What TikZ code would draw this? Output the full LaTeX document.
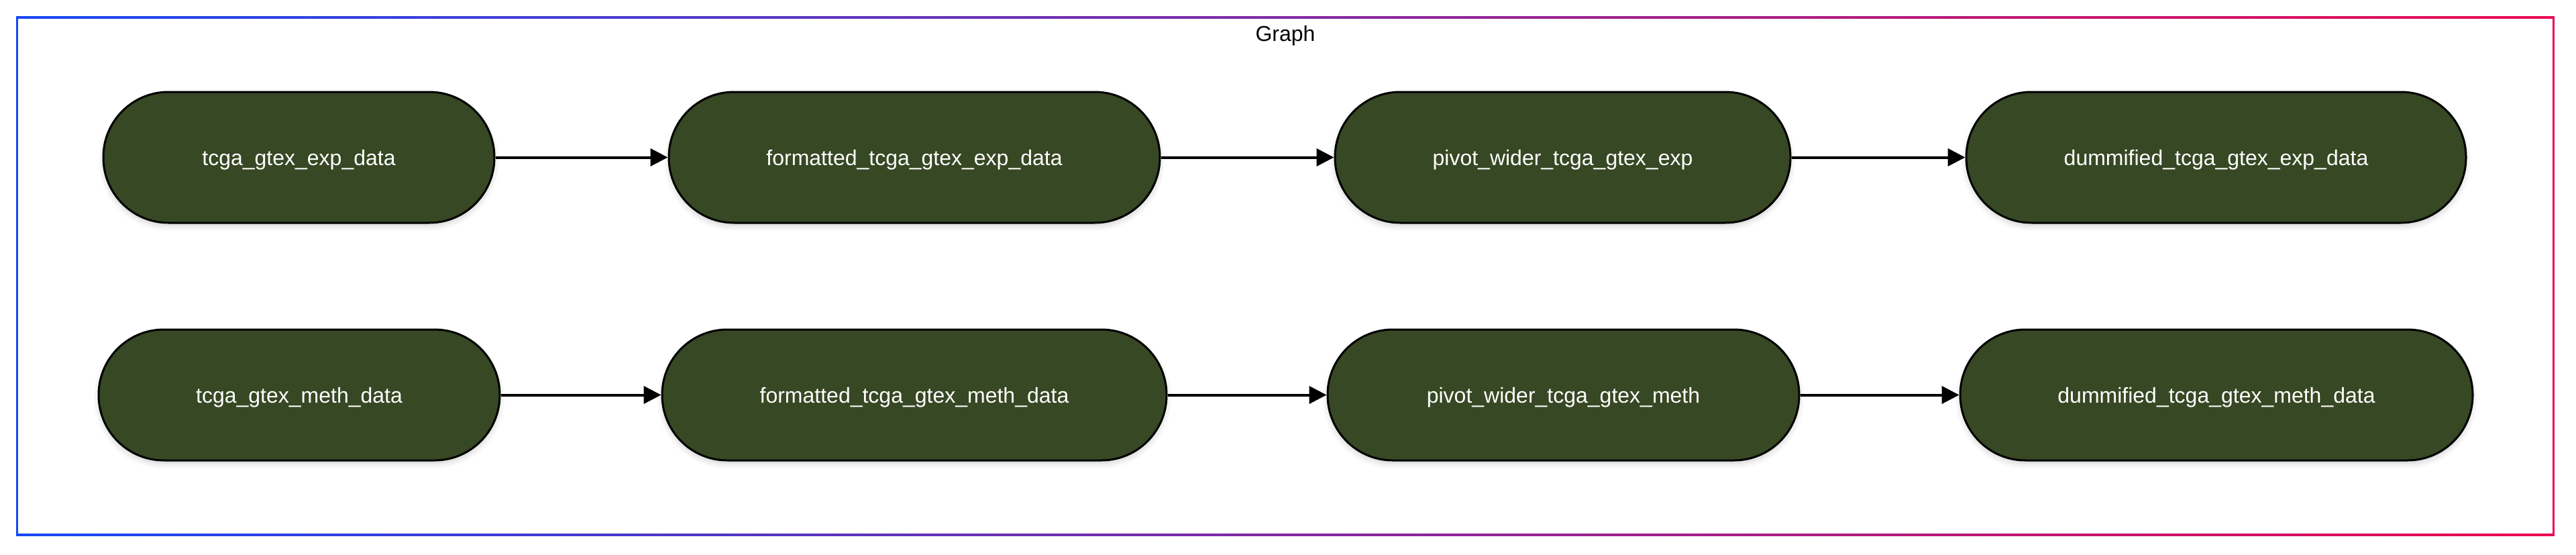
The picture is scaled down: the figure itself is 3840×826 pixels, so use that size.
\documentclass[tikz,border=0pt]{standalone}
\usepackage{fontspec}
\setmainfont{Liberation Sans}
\usetikzlibrary{arrows.meta,shadows.blur}
\definecolor{fblue}{RGB}{22,72,245}
\definecolor{fred}{RGB}{236,8,80}
\definecolor{nodefill}{RGB}{55,72,36}
\tikzset{
  pill/.style={draw=black, line width=0.75pt, fill=nodefill, rounded corners=24.3pt,
    minimum height=48.75pt, inner sep=0pt, text=white, font=\fontsize{8pt}{9.6pt}\selectfont,
    text height=6pt, text depth=0pt,
    blur shadow={shadow blur steps=6, shadow xshift=0pt, shadow yshift=-1.2pt, shadow opacity=18, shadow blur radius=2pt}},
  conn/.style={draw=black, line width=1pt, -{Triangle[length=6.5pt,width=6.5pt]}},
  titletext/.style={font=\fontsize{8pt}{9.6pt}\selectfont, text=black, inner sep=0pt}
}
\begin{document}
\begin{tikzpicture}[x=0.25pt,y=-0.25pt]
\useasboundingbox (0,0) rectangle (3840,826);
% frame
\shade[left color=fblue, right color=fred] (24,24.2) rectangle (3807.5,27.2);
\shade[left color=fblue, right color=fred] (24,795.5) rectangle (3807.5,798.5);
\fill[fblue] (24,24.2) rectangle (27,798.5);
\fill[fred] (3804.5,24.2) rectangle (3807.5,798.5);
\node[titletext, anchor=base] (title) at (1916,61) {Graph};
% row 1
\node[pill, minimum width=145.75pt] (n1) at (445.5,234.5) {tcga\_gtex\_exp\_data};
\node[pill, minimum width=183pt] (n2) at (1363,234.5) {formatted\_tcga\_gtex\_exp\_data};
\node[pill, minimum width=169.75pt] (n3) at (2329.5,234.5) {pivot\_wider\_tcga\_gtex\_exp};
\node[pill, minimum width=186.25pt] (n4) at (3303.5,234.5) {dummified\_tcga\_gtex\_exp\_data};
% row 2
\node[pill, minimum width=149.5pt] (m1) at (446,588.5) {tcga\_gtex\_meth\_data};
\node[pill, minimum width=188pt] (m2) at (1363,588.5) {formatted\_tcga\_gtex\_meth\_data};
\node[pill, minimum width=175.75pt] (m3) at (2330.5,588.5) {pivot\_wider\_tcga\_gtex\_meth};
\node[pill, minimum width=191pt] (m4) at (3304,588.5) {dummified\_tcga\_gtex\_meth\_data};
% connectors
\draw[conn] (n1.east) -- (n2.west);
\draw[conn] (n2.east) -- (n3.west);
\draw[conn] (n3.east) -- (n4.west);
\draw[conn] (m1.east) -- (m2.west);
\draw[conn] (m2.east) -- (m3.west);
\draw[conn] (m3.east) -- (m4.west);
\end{tikzpicture}
\end{document}
